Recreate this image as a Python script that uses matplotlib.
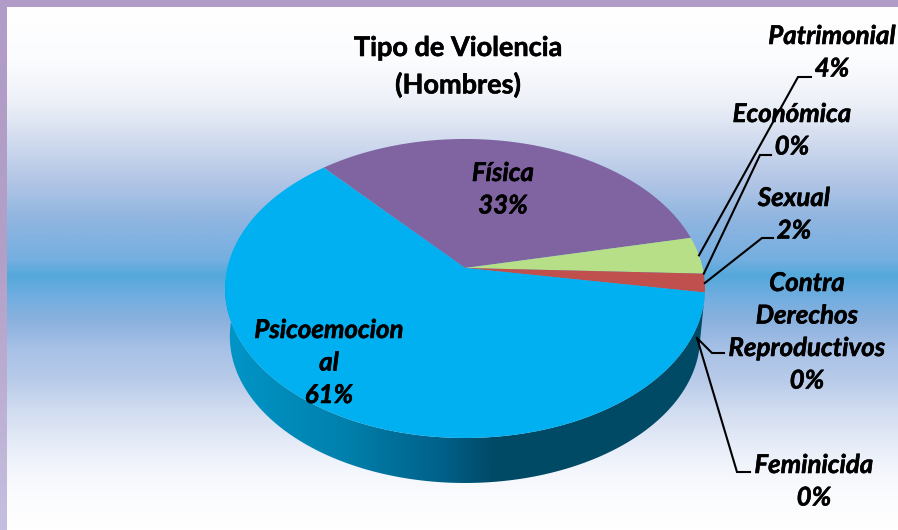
import matplotlib
matplotlib.use("Agg")
import matplotlib.pyplot as plt
import matplotlib.patheffects as pe
from matplotlib.colors import LinearSegmentedColormap
from matplotlib.patches import Polygon, Rectangle
import numpy as np

plt.rcParams['font.family'] = ['Lato', 'DejaVu Sans']

title_lines = ["Tipo de Violencia", "(Hombres)"]
categories = ["Física", "Patrimonial", "Económica", "Sexual",
              "Contra\nDerechos\nReproductivos", "Feminicida", "Psicoemocion\nal"]
values = [33, 4, 0, 2, 0, 0, 61]
percent_labels = ["33%", "4%", "0%", "2%", "0%", "0%", "61%"]
slice_colors = ["#8064A2", "#B7DF87", "#8FB0D8", "#C0504D", "#4BACC6", "#F79646", "#00B0F0"]

W, H = 898, 530
APEX_X, APEX_Y = 465, 268
A, B, K = 237.7, 146.7, 0.137
START_ANGLE = -131


def project(t_deg):
    t = np.radians(t_deg)
    u, v = np.cos(t), np.sin(t)
    d = 1 - K * v
    return APEX_X + A * u / d, APEX_Y + B * v / d


def lower_edge(x, y):
    return APEX_X + (x - APEX_X) * 0.98, 288 + (y - 288) * 0.98 + 48


def gradient(ax, stops, extent, vertical=True):
    cmap = LinearSegmentedColormap.from_list("g", stops, N=512)
    g = np.linspace(0, 1, 512)
    g = g.reshape(-1, 1) if vertical else g.reshape(1, -1)
    return ax.imshow(g, cmap=cmap, extent=extent, aspect='auto', vmin=0, vmax=1, zorder=1,
                     origin='upper')


fig = plt.figure(figsize=(W / 100, H / 100), dpi=100)
ax = fig.add_axes([0, 0, 1, 1])
ax.set_axis_off()

# background
ax.add_patch(Rectangle((0, 0), W, 7, facecolor="#B09CC6", edgecolor="none", zorder=2))
left = gradient(ax, ["#B09CC6", "#B3A0C8", "#C5BFDF"], (0, 7, H, 0))
bg_y = [7, 60, 100, 130, 180, 220, 260, 275, 300, 320, 350, 380, 410, 440, 470, 500, 530]
bg_c = ["#FFFFFF", "#FBFCFE", "#EEF1F8", "#D9E1F1", "#B3C6E6", "#8FB5E0", "#74AFE0", "#55A8DB",
        "#74AEE0", "#8AB1DE", "#A8C1E6", "#B8CBE9", "#D0DCF0", "#E4EAF7", "#F3F6FC", "#FBFCFE", "#FFFFFF"]
gradient(ax, [((y - 7) / (H - 7), c) for y, c in zip(bg_y, bg_c)], (7, W, H, 7))

# side wall
angles = np.cumsum([0] + values) * 3.6 + START_ANGLE
wall_t = np.linspace(angles[-2], angles[-1], 300)
x_top, y_top = project(wall_t)
x_low, y_low = lower_edge(x_top, y_top)
wall = Polygon(np.column_stack([np.r_[x_top, x_low[::-1]], np.r_[y_top, y_low[::-1]]]),
               closed=True, facecolor="none", edgecolor="none", zorder=2)
ax.add_patch(wall)
wall_img = gradient(ax, [(0.0, "#0096C8"), (0.25, "#0080AC"), (0.45, "#00618A"), (0.56, "#004A66"),
                         (1.0, "#004A66")], (225, 705, 490, 280), vertical=False)
wall_img.set_zorder(2)
wall_img.set_clip_path(wall)

# top face
for i, val in enumerate(values):
    if val == 0:
        continue
    t = np.linspace(angles[i], angles[i + 1], 200)
    xs, ys = project(t)
    ax.add_patch(Polygon(np.column_stack([np.r_[APEX_X, xs], np.r_[APEX_Y, ys]]), closed=True,
                         facecolor=slice_colors[i], edgecolor="none", zorder=3))

# leader lines, from the slice out to its label
leader_paths = {1: [(798, 77), (811, 77)], 2: [(760, 155), (771, 155)], 3: [(762, 238), (773, 238)],
                4: [(712, 353), (724, 353)], 5: [(737, 472), (750, 472)]}
rim_point = (697, 338)
for i, path in leader_paths.items():
    mid = (angles[i] + angles[i + 1]) / 2
    sx, sy = project(mid) if i < 4 else rim_point
    ax.plot([sx] + [p[0] for p in path], [sy] + [p[1] for p in path],
            color="black", lw=1.5, solid_joinstyle='miter', zorder=4)

# labels
thicker = [pe.withStroke(linewidth=0.4, foreground='black')]
font = dict(ha='center', va='center', fontweight='bold', fontstyle='italic', color='black',
            fontsize=18.6, zorder=5, path_effects=thicker)
label_pos = [(503, 173), (832, 36), (792, 114), (794, 198), (807, 283), (814, 465), (329, 330)]
LINE = 32.5
for i, (x, y) in enumerate(label_pos):
    lines = categories[i].split("\n") + [percent_labels[i]]
    for j, s in enumerate(lines):
        ax.text(x, y + j * LINE, s, **font)

title_font = dict(ha='center', va='center', fontweight='bold', fontsize=19.5, color='black',
                  zorder=5, path_effects=thicker)
ax.text(458, 48, title_lines[0], **title_font)
ax.text(458, 85, title_lines[1], **title_font)

ax.set_xlim(0, W)
ax.set_ylim(H, 0)
fig.savefig("out.png", dpi=100)
